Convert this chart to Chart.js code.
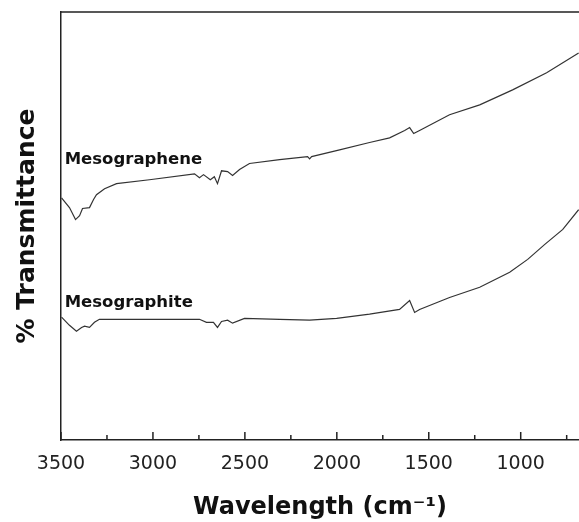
<!DOCTYPE html>
<html>
<head>
<meta charset="utf-8">
<script src="https://cdn.jsdelivr.net/npm/chart.js@4.4.1/dist/chart.umd.min.js"></script>
<style>
    html, body { margin: 0; padding: 0; background: #fff; }
</style>
</head>
<body>
<canvas id="ftirChart" width="579" height="522"></canvas>
<script>
// wavenumber (cm-1) and % transmittance
const grapheneWave = [3497, 3454, 3421, 3399, 3383, 3345, 3323, 3307, 3263, 3198, 3019, 2774, 2747, 2725, 2688, 2666, 2649, 2627, 2594, 2567, 2529, 2475, 2311, 2159, 2148, 2137, 1985, 1822, 1713, 1631, 1604, 1582, 1550, 1387, 1223, 1044, 859, 685];
const grapheneTrans = [56.6, 54.3, 51.5, 52.4, 54.1, 54.3, 56.2, 57.3, 58.7, 59.9, 60.8, 62.2, 61.3, 62.0, 60.8, 61.5, 59.9, 62.9, 62.7, 61.8, 63.2, 64.6, 65.5, 66.2, 65.7, 66.2, 67.8, 69.5, 70.6, 72.3, 73.0, 71.6, 72.3, 76.0, 78.3, 81.8, 85.8, 90.4];
const graphiteWave = [3497, 3454, 3416, 3388, 3372, 3345, 3318, 3291, 3019, 2747, 2709, 2671, 2649, 2627, 2594, 2567, 2502, 2311, 2148, 2001, 1822, 1659, 1604, 1577, 1550, 1387, 1223, 1060, 962, 869, 771, 685];
const graphiteTrans = [28.7, 26.8, 25.4, 26.3, 26.6, 26.3, 27.5, 28.2, 28.2, 28.2, 27.5, 27.5, 26.3, 27.7, 28.0, 27.3, 28.4, 28.2, 28.0, 28.4, 29.4, 30.5, 32.6, 29.8, 30.5, 33.3, 35.7, 39.2, 42.2, 45.7, 49.2, 53.8];
const majorTicks = [3500, 3000, 2500, 2000, 1500, 1000];
const minorTicks = [3250, 2750, 2250, 1750, 1250, 750];
const seriesNames = ['Mesographene', 'Mesographite'];

function toPoints(wave, trans) {
    return wave.map((w, i) => ({ x: w, y: trans[i] }));
}

const frameAndLabels = {
    id: 'frameAndLabels',
    afterDraw(chart) {
        const ctx = chart.ctx;
        const area = chart.chartArea;
        const xs = chart.scales.x;
        const ys = chart.scales.y;
        ctx.save();
        ctx.strokeStyle = '#222';
        ctx.lineWidth = 1.5;
        ctx.beginPath();
        ctx.moveTo(area.left, area.top);
        ctx.lineTo(area.right, area.top);
        // inward ticks on the bottom axis
        majorTicks.forEach(v => {
            const px = xs.getPixelForValue(v);
            ctx.moveTo(px, area.bottom);
            ctx.lineTo(px, area.bottom - 8);
        });
        minorTicks.forEach(v => {
            const px = xs.getPixelForValue(v);
            ctx.moveTo(px, area.bottom);
            ctx.lineTo(px, area.bottom - 5);
        });
        ctx.stroke();

        ctx.fillStyle = '#111';
        ctx.font = 'bold 16.5px "DejaVu Sans"';
        ctx.textAlign = 'left';
        ctx.textBaseline = 'alphabetic';
        ctx.fillText(seriesNames[0], xs.getPixelForValue(3480), ys.getPixelForValue(64.6));
        ctx.fillText(seriesNames[1], xs.getPixelForValue(3480), ys.getPixelForValue(31.0));
        ctx.restore();
    }
};

const ctx = document.getElementById('ftirChart').getContext('2d');
new Chart(ctx, {
    type: 'line',
    data: {
        datasets: [
            { label: seriesNames[0], data: toPoints(grapheneWave, grapheneTrans) },
            { label: seriesNames[1], data: toPoints(graphiteWave, graphiteTrans) }
        ].map(d => Object.assign(d, {
            borderColor: '#333',
            borderWidth: 1.2,
            pointRadius: 0,
            fill: false,
            tension: 0
        }))
    },
    options: {
        responsive: false,
        animation: false,
        layout: { padding: { top: 12, right: 0, left: 0, bottom: 0 } },
        plugins: {
            legend: { display: false },
            tooltip: { enabled: false }
        },
        scales: {
            x: {
                type: 'linear',
                reverse: true,
                min: 683,
                max: 3500,
                grid: { display: false },
                border: { display: true, color: '#222', width: 1.5 },
                afterBuildTicks: scale => {
                    scale.ticks = majorTicks.map(v => ({ value: v }));
                },
                afterFit: scale => { scale.height = 82; },
                ticks: {
                    color: '#222',
                    padding: 5,
                    maxRotation: 0,
                    font: { family: 'DejaVu Sans', size: 19 },
                    callback: v => String(v)
                },
                title: {
                    display: true,
                    text: 'Wavelength (cm\u207B\u00B9)',
                    color: '#111',
                    padding: { top: 0, bottom: 0 },
                    font: { family: 'DejaVu Sans', size: 24, weight: 'bold' }
                }
            },
            y: {
                min: 0,
                max: 100,
                grid: { display: false },
                border: { display: true, color: '#222', width: 1.5 },
                ticks: { display: false },
                afterFit: scale => { scale.width = 61; },
                title: {
                    display: true,
                    text: '% Transmittance',
                    color: '#111',
                    padding: { top: 12, bottom: 0 },
                    font: { family: 'DejaVu Sans', size: 25, weight: 'bold' }
                }
            }
        }
    },
    plugins: [frameAndLabels]
});
</script>
</body>
</html>
